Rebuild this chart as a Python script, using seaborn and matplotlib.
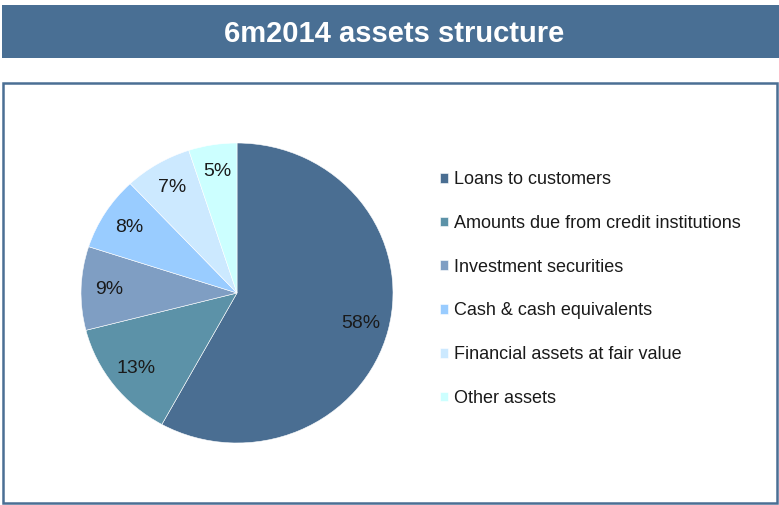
import matplotlib
matplotlib.use("Agg")
import matplotlib.pyplot as plt
from matplotlib.patches import Rectangle
import seaborn as sns

# data
categories = ["Loans to customers", "Amounts due from credit institutions",
              "Investment securities", "Cash & cash equivalents",
              "Financial assets at fair value", "Other assets"]
shares = [58, 13, 9, 8, 7, 5]
slice_colors = ["#4A6E92", "#5C92A8", "#7F9EC3", "#99CCFF", "#CCE9FF", "#CCFFFF"]
title = "6m2014 assets structure"

sns.set_theme(style="white")
plt.rcParams["font.family"] = ["Liberation Sans", "DejaVu Sans"]

W, H = 779, 505
fig = plt.figure(figsize=(W / 100, H / 100), dpi=100)
fig.patch.set_facecolor("white")

# title bar
fig.patches.append(Rectangle((2 / W, 1 - 58 / H), 777 / W, 53 / H,
                             transform=fig.transFigure, facecolor="#496F94",
                             edgecolor="none", zorder=-2))
fig.text(394 / W, 1 - 34 / H, title, color="white", fontsize=21,
         fontweight="bold", ha="center", va="center")

# panel frame
fig.patches.append(Rectangle((3 / W, 1 - 503 / H), 774 / W, 420 / H,
                             transform=fig.transFigure, facecolor="none",
                             edgecolor="#4A6F94", linewidth=1.8, zorder=-1))

palette = sns.color_palette(slice_colors)

# pie axes: center (237, 293), radius ~156 x 150 px
cx, cy, rx, ry = 237, 293, 156, 150
ax = fig.add_axes([(cx - rx) / W, 1 - (cy + ry) / H, 2 * rx / W, 2 * ry / H])
ax.patch.set_alpha(0)
wedges, texts, autotexts = ax.pie(
    shares, colors=palette, startangle=90, counterclock=False,
    autopct=lambda p: f"{p:.0f}%", pctdistance=0.82,
    wedgeprops=dict(edgecolor="white", linewidth=0.4),
    textprops=dict(fontsize=14, color="#1a1a1a"))
ax.set_aspect("auto")
ax.set_xlim(-1, 1)
ax.set_ylim(-1, 1)
ax.axis("off")

leg = fig.legend(wedges, categories, loc="upper left",
                 bbox_to_anchor=(433 / W, 1 - 164 / H), frameon=False,
                 fontsize=13, handlelength=0.45, handleheight=0.45,
                 handletextpad=0.3, labelspacing=1.48, borderaxespad=0)
for t in leg.get_texts():
    t.set_color("#1a1a1a")

fig.savefig("out.png", dpi=100, facecolor="white")
